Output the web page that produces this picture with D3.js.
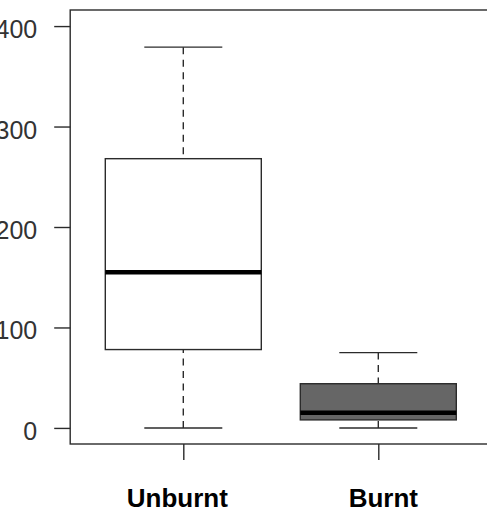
<!DOCTYPE html>
<html>
<head>
<meta charset="utf-8">
<script src="https://cdn.jsdelivr.net/npm/d3@7/dist/d3.min.js"></script>
<style>
html, body { margin: 0; padding: 0; background: #fff; }
svg { display: block; }
</style>
</head>
<body>
<script>
const categories = ["Unburnt", "Burnt"];
const mins = [0, 0];
const q1s = [78, 8];
const medians = [155, 15];
const q3s = [268, 44];
const maxs = [379, 75];
const yTicks = [0, 100, 200, 300, 400];

const W = 487, H = 512;
const ink = "#2b2b2b";
const fillFor = { "Unburnt": "#ffffff", "Burnt": "#666666" };
const labelShift = { "Unburnt": -6, "Burnt": 5 };

const svg = d3.select("body").append("svg").attr("width", W).attr("height", H);

const x = d3.scaleLinear().domain([0.42, 2.58]).range([70.2, 491.4]);
const y = d3.scaleLinear().domain([-16, 416]).range([444, 10]);
const unit = x(1) - x(0);
const boxW = 0.8 * unit;
const capW = 0.4 * unit;

const data = categories.map((c, i) => ({
  cat: c, pos: i + 1, min: mins[i], q1: q1s[i], med: medians[i], q3: q3s[i], max: maxs[i]
}));

// frame
svg.append("rect")
  .attr("x", x(0.42)).attr("y", y(416))
  .attr("width", x(2.58) - x(0.42)).attr("height", y(-16) - y(416))
  .attr("fill", "none").attr("stroke", ink).attr("stroke-width", 1.4);

// y axis
const yAxis = svg.append("g")
  .attr("transform", `translate(${x(0.42)},0)`)
  .call(d3.axisLeft(y).tickValues(yTicks).tickSize(16).tickPadding(17).tickFormat(d3.format("d")));
yAxis.select(".domain").remove();
yAxis.selectAll(".tick line").attr("stroke", ink).attr("stroke-width", 1.4);
yAxis.selectAll(".tick text")
  .attr("fill", "#333").attr("dy", "0.46em")
  .style("font-family", "'Liberation Sans', Arial, sans-serif").style("font-size", "25px");

// x axis ticks
const xAxis = svg.append("g")
  .attr("transform", `translate(0,${y(-16)})`)
  .call(d3.axisBottom(x).tickValues(data.map(d => d.pos)).tickSize(16).tickFormat(""));
xAxis.select(".domain").remove();
xAxis.selectAll(".tick line").attr("stroke", ink).attr("stroke-width", 1.4);

// x labels
svg.append("g").selectAll("text").data(data).join("text")
  .attr("x", d => x(d.pos) + labelShift[d.cat])
  .attr("y", 506.5)
  .attr("text-anchor", "middle")
  .attr("fill", "#000")
  .style("font-family", "'Liberation Sans', Arial, sans-serif")
  .style("font-size", "26px").style("font-weight", "bold")
  .text(d => d.cat);

const g = svg.append("g").selectAll("g").data(data).join("g");

// whiskers (dashed)
g.append("line")
  .attr("x1", d => x(d.pos)).attr("x2", d => x(d.pos))
  .attr("y1", d => y(d.max)).attr("y2", d => y(d.q3))
  .attr("stroke", ink).attr("stroke-width", 1.4).attr("stroke-dasharray", "7,5.5");
g.append("line")
  .attr("x1", d => x(d.pos)).attr("x2", d => x(d.pos))
  .attr("y1", d => y(d.min)).attr("y2", d => y(d.q1))
  .attr("stroke", ink).attr("stroke-width", 1.4).attr("stroke-dasharray", "7,5.5");

// caps
["max", "min"].forEach(k => {
  g.append("line")
    .attr("x1", d => x(d.pos) - capW / 2).attr("x2", d => x(d.pos) + capW / 2)
    .attr("y1", d => y(d[k])).attr("y2", d => y(d[k]))
    .attr("stroke", ink).attr("stroke-width", 1.4);
});

// boxes
g.append("rect")
  .attr("x", d => x(d.pos) - boxW / 2).attr("width", boxW)
  .attr("y", d => y(d.q3)).attr("height", d => y(d.q1) - y(d.q3))
  .attr("fill", d => fillFor[d.cat]).attr("stroke", ink).attr("stroke-width", 1.4);

// medians
g.append("line")
  .attr("x1", d => x(d.pos) - boxW / 2).attr("x2", d => x(d.pos) + boxW / 2)
  .attr("y1", d => y(d.med)).attr("y2", d => y(d.med))
  .attr("stroke", "#000").attr("stroke-width", 4.5);
</script>
</body>
</html>
